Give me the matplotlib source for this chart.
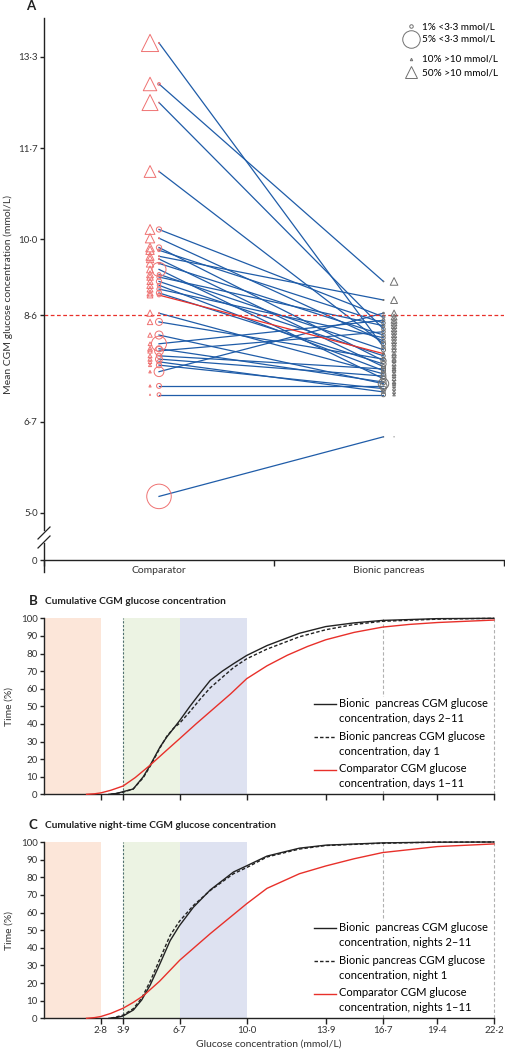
import numpy as np
import matplotlib
matplotlib.use("Agg")
import matplotlib.pyplot as plt
from matplotlib.lines import Line2D
from matplotlib.legend_handler import HandlerLine2D

plt.rcParams['font.family'] = ['Lato', 'DejaVu Sans']
plt.rcParams['font.size'] = 7

# ---------------- panel A data (one entry per participant) ----------------
comparator_mean = [13.59, 12.84, 12.50, 11.24, 10.18, 10.02, 9.85, 9.80, 9.69, 9.64, 9.56,
                   9.45, 9.36, 9.31, 9.23, 9.16, 9.09, 9.02, 8.98, 8.65, 8.49, 8.25, 8.09,
                   8.00, 7.96, 7.87, 7.81, 7.76, 7.70, 7.58, 7.32, 7.16, 5.30]
bionic_mean = [8.03, 9.23, 8.36, 8.09, 8.58, 8.14, 7.78, 8.47, 8.89, 7.67, 8.25,
               7.45, 7.98, 8.42, 7.87, 7.60, 8.20, 7.72, 7.91, 7.54, 7.81, 7.36, 8.52,
               7.39, 8.31, 7.63, 7.50, 7.21, 7.27, 8.65, 7.32, 7.16, 6.39]
# % of time <3.3 mmol/L (circle size) and >10 mmol/L (triangle size)
comparator_low_pct = [0.3, 0.8, 0.2, 0.3, 1.5, 0.3, 1.5, 0.8, 0.3, 0.3, 0.5,
                      4.0, 1.0, 1.2, 1.5, 1.0, 1.2, 1.5, 1.0, 0.3, 2.0, 2.3, 4.3,
                      1.7, 2.5, 1.5, 2.0, 1.2, 1.5, 2.8, 1.4, 1.1, 7.0]
comparator_high_pct = [70, 55, 65, 48, 40, 38, 35, 34, 33, 30, 30,
                       28, 28, 26, 25, 26, 24, 25, 23, 26, 22, 18, 15,
                       20, 18, 16, 17, 14, 12, 10, 9, 5, 0]
bionic_low_pct = [1.0, 0.2, 1.0, 1.2, 0.8, 1.0, 1.5, 1.0, 0.3, 1.2, 1.0,
                  1.5, 1.2, 0.8, 1.0, 1.2, 1.0, 1.5, 0.6, 1.3, 1.0, 3.0, 0.8,
                  1.5, 1.0, 1.2, 1.4, 1.0, 1.5, 0.5, 2.0, 1.2, 0.1]
bionic_high_pct = [19, 31, 22, 18, 24, 20, 15, 23, 28, 14, 21,
                   15, 18, 22, 17, 14, 20, 16, 18, 15, 17, 13, 24,
                   14, 21, 15, 14, 12, 13, 25, 12, 10, 1]
highlight_subject = 18
target_mean = 155 / 18

a_tick_mgdl = [90, 120, 155, 180, 210, 240]
a_tick_labels = ['5·0', '6·7', '8·6', '10·0', '11·7', '13·3']
groups = ['Comparator', 'Bionic pancreas']

# ---------------- panels B and C data (cumulative curves) ----------------
b_bp_glucose = [3.2, 3.6, 3.9, 4.4, 4.9, 5.24, 5.73, 6.06, 6.39, 6.7, 7.2, 7.7, 8.2, 8.8,
                9.35, 10.0, 11.0, 12.6, 13.9, 15.3, 16.7, 19.4, 22.2]
b_bp_pct = [0, 0.5, 1.5, 3, 10, 16.6, 27, 32.6, 37.4, 42, 50, 57.5, 64.7, 70,
            74.2, 78.9, 84.5, 91.5, 95.3, 97.4, 98.8, 99.8, 100]
b_day1_glucose = [3.3, 3.9, 4.4, 4.9, 5.24, 5.73, 6.06, 6.39, 6.7, 7.2, 7.7, 8.2, 8.8,
                  9.35, 10.0, 11.0, 12.6, 13.9, 15.3, 16.7, 19.4, 22.2]
b_day1_pct = [0, 1.2, 3, 9.5, 16, 26.5, 33, 37.5, 40.5, 47, 54, 60.5, 66.5,
              72, 77, 82.5, 89.5, 93.5, 96.5, 98.3, 99.5, 100]
b_comp_glucose = [2.1, 2.5, 2.8, 3.3, 3.9, 4.5, 5.24, 6.0, 6.7, 7.5, 8.3, 9.2, 10.0,
                  11.0, 12.0, 13.0, 13.9, 15.3, 16.7, 18.0, 19.4, 20.8, 22.2]
b_comp_pct = [0, 0.3, 0.8, 2.3, 4.7, 9.5, 16.6, 24.5, 31.7, 40, 48, 57, 65.7,
              73, 79, 84, 87.8, 92, 95, 96.5, 97.6, 98.3, 99]

c_bp_glucose = [3.2, 3.6, 3.9, 4.41, 4.82, 5.24, 5.73, 6.22, 6.68, 7.37, 8.2, 9.35, 10.0,
                11.0, 12.6, 13.9, 16.7, 19.4, 22.2]
c_bp_pct = [0, 0.5, 1.3, 4.7, 10.4, 18.9, 31.2, 44, 52.5, 63, 72.8, 83, 86.5,
            92, 96.5, 98.2, 99.5, 99.9, 100]
c_night1_glucose = [3.3, 3.9, 4.41, 4.82, 5.24, 5.73, 6.22, 6.68, 7.37, 8.2, 9.35, 10.0,
                    11.0, 12.6, 13.9, 16.7, 19.4, 22.2]
c_night1_pct = [0, 1.8, 5.5, 11.5, 21, 34, 47, 55, 64, 72.5, 82, 85.5,
                91.5, 96, 98, 99.3, 99.9, 100]
c_comp_glucose = [2.1, 2.5, 2.8, 3.3, 3.9, 4.4, 4.9, 5.7, 6.7, 7.4, 8.2, 9.1, 10.0,
                  11.0, 12.6, 13.9, 15.3, 16.7, 19.4, 22.2]
c_comp_pct = [0, 0.4, 1, 2.8, 5.7, 9, 12.8, 21, 33, 40, 48, 56.5, 65,
              73.7, 82, 86.4, 90.5, 94, 97.4, 98.9]

glucose_ticks = [2.8, 3.9, 6.7, 10.0, 13.9, 16.7, 19.4, 22.2]
glucose_tick_labels = ['2·8', '3·9', '6·7', '10·0', '13·9', '16·7', '19·4', '22·2']
bands = [(0, 2.8, '#fce6d9'), (3.9, 6.7, '#ecf3e3'), (6.7, 10.0, '#dee2f1')]

BLUE = '#1f5ca8'
RED = '#e8302a'
PINK = '#ef7272'
GREY = '#707070'
INK = '#222222'

W, H = 505, 1050
fig = plt.figure(figsize=(W / 100, H / 100), dpi=100)


class FirstLineHandler(HandlerLine2D):
    """legend line drawn level with the first line of a two-line label"""
    def create_artists(self, legend, orig_handle, xdescent, ydescent, width, height, fontsize, trans):
        artists = super().create_artists(legend, orig_handle, xdescent, ydescent,
                                         width, height, fontsize, trans)
        for a in artists:
            a.set_ydata(np.asarray(a.get_ydata(), dtype=float) + 5.2)
        return artists


def px_axes(left, top, right, bottom):
    return fig.add_axes([left / W, 1 - bottom / H, (right - left) / W, (bottom - top) / H])


def circle_size(pct):
    return (2.52 * pct) ** 2


def triangle_size(pct):
    return (0.177 * pct) ** 2


def style_spines(ax):
    for side in ['top', 'right']:
        ax.spines[side].set_visible(False)
    for side in ['left', 'bottom']:
        ax.spines[side].set_color(INK)
        ax.spines[side].set_linewidth(1.0)
    ax.tick_params(colors=INK, labelcolor='#333333', width=1.0, length=3, labelsize=7, pad=1.5)


# ================= panel A =================
ax = px_axes(44, 18, 504, 530)
ax.set_xlim(0, 2)
ax.set_ylim(13.333 - 473 / 54.7, 13.333 + 39 / 54.7)
style_spines(ax)
ax.spines['bottom'].set_visible(False)
ax.set_xticks([])
ax.set_yticks([v / 18 for v in a_tick_mgdl])
ax.set_yticklabels(a_tick_labels)

x_comp_circ, x_comp_tri = 0.5, 0.461
x_bp_circ, x_bp_tri = 1.476, 1.522

for i, (c, b) in enumerate(zip(comparator_mean, bionic_mean)):
    col = RED if i == highlight_subject else BLUE
    ax.plot([x_comp_circ, x_bp_circ], [c, b], color=col, lw=0.9, zorder=3 if i == highlight_subject else 2)

ax.axhline(target_mean, color=RED, lw=0.9, ls=(0, (3, 2)), zorder=2.5)

n = len(comparator_mean)
ax.scatter([x_comp_circ] * n, comparator_mean, s=[circle_size(p) for p in comparator_low_pct],
           facecolors='none', edgecolors=PINK, linewidths=0.7, zorder=4)
ax.scatter([x_comp_tri] * n, comparator_mean, s=[triangle_size(p) for p in comparator_high_pct],
           marker='^', facecolors='none', edgecolors=PINK, linewidths=0.7, zorder=4)
ax.scatter([x_bp_circ] * n, bionic_mean, s=[circle_size(p) for p in bionic_low_pct],
           facecolors='none', edgecolors=GREY, linewidths=0.7, zorder=4)
ax.scatter([x_bp_tri] * n, bionic_mean, s=[triangle_size(p) for p in bionic_high_pct],
           marker='^', facecolors='none', edgecolors=GREY, linewidths=0.7, zorder=4)

# size key: two small legends (circles, then triangles)
low_key_pct = [1, 5]
low_key_labels = ['1% <3·3 mmol/L', '5% <3·3 mmol/L']
high_key_pct = [10, 50]
high_key_labels = ['10% >10 mmol/L', '50% >10 mmol/L']
low_handles = [Line2D([], [], ls='none', marker='o', ms=2.52 * p, mfc='none', mec=GREY, mew=0.7)
               for p in low_key_pct]
high_handles = [Line2D([], [], ls='none', marker='^', ms=0.177 * p, mfc='none', mec=GREY, mew=0.7)
                for p in high_key_pct]
key_opts = dict(loc='upper left', frameon=False, fontsize=7.2, handlelength=1.0, handletextpad=0.55,
                labelspacing=0.4, borderpad=0, borderaxespad=0)
leg1 = ax.legend(low_handles, low_key_labels, bbox_to_anchor=((406 - 44) / 460, 1 - 4 / 512), **key_opts)
ax.add_artist(leg1)
ax.legend(high_handles, high_key_labels, bbox_to_anchor=((406 - 44) / 460, 1 - 37 / 512), **key_opts)

# lower part of broken axis with the 0 tick and the group labels
axb = px_axes(44, 543, 504, 572)
axb.set_ylim(-12, 17)
axb.set_xlim(0, 2)
style_spines(axb)
axb.spines['bottom'].set_position(('data', 0))
axb.spines['left'].set_bounds(-12, 17)
axb.set_yticks([0])
axb.set_xticks([0.5, 1.5])
axb.set_xticklabels(groups, fontsize=7.5)
axb.set_xticks([0, 1, 2], minor=True)
axb.tick_params(axis='x', which='major', length=0, pad=4)
axb.tick_params(axis='x', which='minor', length=4, width=1.0, color=INK)

for y0 in [533, 542]:
    fig.add_artist(Line2D([38 / W, 50 / W], [1 - (y0 + 6) / H, 1 - (y0 - 6) / H],
                          transform=fig.transFigure, color=INK, lw=0.9))

fig.text(31 / W, 1 - 6 / H, 'A', fontsize=9.5, fontweight='bold', ha='center', va='center', color=INK)
fig.text(8 / W, 1 - 295 / H, 'Mean CGM glucose concentration (mmol/L)', rotation=90,
         ha='center', va='center', fontsize=7.5, color='#333333')


# ================= panels B and C =================
def cumulative_panel(top, bottom, letter, title, curves, show_labels):
    axc = px_axes(44, top, 494, bottom)
    axc.set_xlim(0, 22.2)
    axc.set_ylim(0, 100)
    style_spines(axc)
    for lo, hi, col in bands:
        axc.axvspan(lo, hi, color=col, lw=0, zorder=0)
    axc.axvline(3.9, color='#4f6f6f', lw=0.8, ls=(0, (2, 1.5)), zorder=1)
    for xv in [16.7, 22.2]:
        axc.axvline(xv, color='#b0b0b0', lw=0.8, ls=(0, (3, 2)), zorder=1, clip_on=False)
    handles = []
    for (gx, gy, col, ls, lab) in curves:
        line, = axc.plot(gx, gy, color=col, ls=ls, lw=1.0, label=lab, zorder=3, clip_on=False)
        handles.append(line)
    axc.set_yticks(range(0, 101, 10))
    axc.set_xticks(glucose_ticks)
    axc.tick_params(axis='x', length=4)
    if show_labels:
        axc.set_xticklabels(glucose_tick_labels)
        axc.set_xlabel('Glucose concentration (mmol/L)', fontsize=7.5, color='#333333', labelpad=3)
    else:
        axc.set_xticklabels([])
    axc.set_ylabel('Time (%)', fontsize=7.5, color='#333333', labelpad=5)
    leg = axc.legend(loc='lower right', bbox_to_anchor=(0.99, 0.02), frameon=True, fancybox=False,
                     facecolor='white', edgecolor='none', framealpha=1.0, fontsize=8,
                     handlelength=2.0, handletextpad=0.3, labelspacing=0.6, borderpad=0.12,
                     borderaxespad=0, handler_map={h: FirstLineHandler() for h in handles})
    for t in leg.get_texts():
        t.set_linespacing(1.45)
    ty = top - 17
    fig.text(33 / W, 1 - ty / H, letter, fontsize=9.5, fontweight='bold', ha='center', va='center', color=INK)
    fig.text(45 / W, 1 - ty / H, title, fontsize=7.3, fontweight='bold', ha='left', va='center', color=INK)
    return axc


cumulative_panel(618.3, 794.3, 'B', 'Cumulative CGM glucose concentration', [
    (b_bp_glucose, b_bp_pct, INK, '-', 'Bionic  pancreas CGM glucose\nconcentration, days 2–11'),
    (b_day1_glucose, b_day1_pct, INK, (0, (2.5, 1.5)), 'Bionic pancreas CGM glucose\nconcentration, day 1'),
    (b_comp_glucose, b_comp_pct, RED, '-', 'Comparator CGM glucose\nconcentration, days 1–11'),
], show_labels=False)

cumulative_panel(842, 1018.3, 'C', 'Cumulative night-time CGM glucose concentration', [
    (c_bp_glucose, c_bp_pct, INK, '-', 'Bionic  pancreas CGM glucose\nconcentration, nights 2–11'),
    (c_night1_glucose, c_night1_pct, INK, (0, (2.5, 1.5)), 'Bionic pancreas CGM glucose\nconcentration, night 1'),
    (c_comp_glucose, c_comp_pct, RED, '-', 'Comparator CGM glucose\nconcentration, nights 1–11'),
], show_labels=True)

fig.savefig('out.png', dpi=100)
